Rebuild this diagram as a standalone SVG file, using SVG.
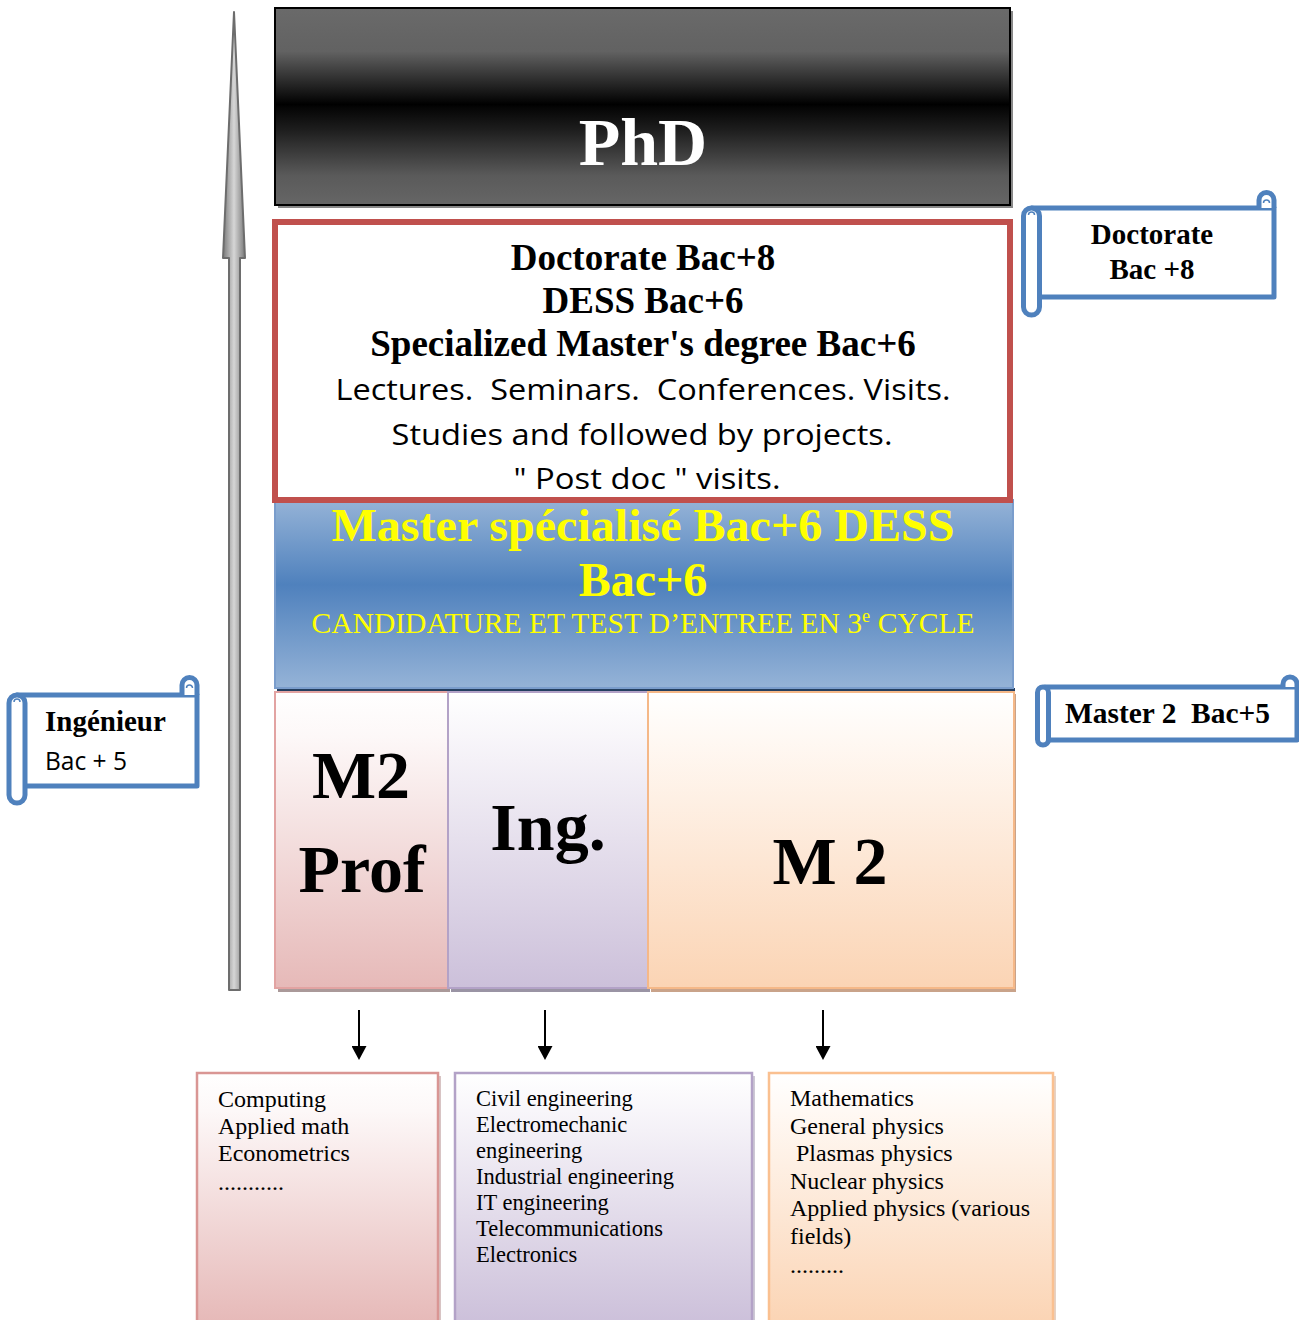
<svg xmlns="http://www.w3.org/2000/svg" width="1299" height="1320" viewBox="0 0 1299 1320">
<style>
.serif{font-family:"Liberation Serif","Times New Roman",serif}
.sans{font-family:"Open Sans","Noto Sans","Liberation Sans",sans-serif}
.b{font-weight:bold}
.scroll{fill:#fff;stroke:#4F81BD;stroke-width:5;stroke-linejoin:round}
.curl{fill:none;stroke:#4F81BD;stroke-width:1.5}
.list{font-family:"Liberation Serif","Times New Roman",serif;fill:#000}
.conn{stroke:#000;stroke-width:2;fill:none}
</style>
<defs>
<linearGradient id="gPhd" x1="0" y1="0" x2="0" y2="1">
<stop offset="0" stop-color="#6a6a6a"/>
<stop offset="0.22" stop-color="#626262"/>
<stop offset="0.49" stop-color="#000"/>
<stop offset="0.505" stop-color="#050505"/>
<stop offset="0.62" stop-color="#1e1e1e"/>
<stop offset="0.85" stop-color="#5a5a5a"/>
<stop offset="1" stop-color="#666"/>
</linearGradient>
<linearGradient id="gBand" x1="0" y1="0" x2="0" y2="1">
<stop offset="0" stop-color="#95B3D7"/>
<stop offset="0.45" stop-color="#4F81BD"/>
<stop offset="1" stop-color="#95B3D7"/>
</linearGradient>
<linearGradient id="gPink" x1="0" y1="0" x2="0" y2="1">
<stop offset="0" stop-color="#fff"/>
<stop offset="0.15" stop-color="#fdf8f8"/>
<stop offset="1" stop-color="#E6B9B8"/>
</linearGradient>
<linearGradient id="gPurple" x1="0" y1="0" x2="0" y2="1">
<stop offset="0" stop-color="#fff"/>
<stop offset="0.15" stop-color="#f8f6fa"/>
<stop offset="1" stop-color="#CCC0DA"/>
</linearGradient>
<linearGradient id="gOrange" x1="0" y1="0" x2="0" y2="1">
<stop offset="0" stop-color="#fff"/>
<stop offset="0.15" stop-color="#fff9f4"/>
<stop offset="1" stop-color="#FBD4B4"/>
</linearGradient>
<linearGradient id="gShaft" x1="0" y1="0" x2="1" y2="0">
<stop offset="0" stop-color="#7a7a7a"/>
<stop offset="0.5" stop-color="#d6d6d6"/>
<stop offset="1" stop-color="#7a7a7a"/>
</linearGradient>
<marker id="ah" viewBox="0 0 14 15" refX="0" refY="7.5" markerWidth="14" markerHeight="15" markerUnits="userSpaceOnUse" orient="auto">
<path d="M0,0 L14,7.5 L0,15 Z" fill="#000"/>
</marker>
<clipPath id="clipRed"><rect x="278" y="225" width="729" height="265"/></clipPath>
</defs>

<g id="level-arrow">
<path d="M234,12 L245,258 L240,258 L240,990 L229,990 L229,258 L223,258 Z" fill="url(#gShaft)" stroke="#6d6d6d" stroke-width="2" stroke-linejoin="round"/>
</g>

<g id="phd">
<rect x="278" y="11" width="735" height="197" fill="#888"/>
<rect x="275" y="8" width="735" height="197" fill="url(#gPhd)" stroke="#000" stroke-width="2"/>
<text class="serif b" x="643" y="165" font-size="68" fill="#fff" text-anchor="middle">PhD</text>
</g>

<g id="master-band">
<rect x="277" y="688" width="738" height="6" fill="#243F60"/>
<rect x="275" y="500" width="738" height="188" fill="url(#gBand)" stroke="#7a9dcc" stroke-width="2"/>
<text class="serif b" x="643" y="541" font-size="47" fill="#FFFF00" text-anchor="middle" textLength="623" lengthAdjust="spacingAndGlyphs">Master spécialisé Bac+6 DESS</text>
<text class="serif b" x="643" y="596" font-size="48" fill="#FFFF00" text-anchor="middle">Bac+6</text>
<text class="serif" x="643" y="633" font-size="29" fill="#FFFF00" text-anchor="middle" textLength="663" lengthAdjust="spacingAndGlyphs">CANDIDATURE ET TEST D’ENTREE EN 3<tspan font-size="18" dy="-11">e</tspan><tspan dy="11"> CYCLE</tspan></text>
</g>

<g id="doctorate-box">
<rect x="275" y="222" width="735" height="278" fill="#fff" stroke="#C0504D" stroke-width="6"/>
<text class="serif b" x="643" y="270" font-size="37" text-anchor="middle">Doctorate Bac+8</text>
<text class="serif b" x="643" y="313" font-size="37" text-anchor="middle">DESS Bac+6</text>
<text class="serif b" x="643" y="356" font-size="37" text-anchor="middle">Specialized Master's degree Bac+6</text>
<text class="sans" x="643" y="400" font-size="30" text-anchor="middle" xml:space="preserve" textLength="615" lengthAdjust="spacingAndGlyphs">Lectures.  Seminars.  Conferences. Visits.</text>
<text class="sans" x="642" y="445" font-size="30" text-anchor="middle" textLength="501" lengthAdjust="spacingAndGlyphs">Studies and followed by projects.</text>
<g clip-path="url(#clipRed)">
<text class="sans" x="647" y="489" font-size="29" text-anchor="middle" textLength="267" lengthAdjust="spacingAndGlyphs">" Post doc " visits.</text>
</g>
</g>

<g id="col-m2prof">
<rect x="278" y="694" width="172" height="298" fill="#a99"/>
<rect x="275" y="692" width="173" height="296" fill="url(#gPink)" stroke="#E2A3A2" stroke-width="2"/>
<text class="serif b" x="361" y="798" font-size="68" text-anchor="middle">M2</text>
<text class="serif b" x="362" y="892" font-size="68" text-anchor="middle">Prof</text>
</g>
<g id="col-ing">
<rect x="451" y="694" width="199" height="298" fill="#9a94a4"/>
<rect x="448" y="692" width="200" height="296" fill="url(#gPurple)" stroke="#B3A2C7" stroke-width="2"/>
<text class="serif b" x="548" y="850" font-size="68" text-anchor="middle">Ing.</text>
</g>
<g id="col-m2">
<rect x="651" y="694" width="365" height="298" fill="#c9a38a"/>
<rect x="648" y="692" width="366" height="296" fill="url(#gOrange)" stroke="#F5B888" stroke-width="2"/>
<text class="serif b" x="830" y="884" font-size="68" text-anchor="middle">M 2</text>
</g>

<g id="scroll-doctorate">
<rect class="scroll" x="1032" y="208" width="242" height="89"/>
<path class="scroll" d="M1259,208 V200 A7.5,7.5 0 0 1 1274,200 V208"/>
<path class="curl" d="M1263.5,203 A3,3 0 0 1 1269.5,203"/>
<rect class="scroll" x="1023.5" y="208" width="16" height="107" rx="8"/>
<path class="curl" d="M1028.5,215 A3,3 0 0 1 1034.5,215"/>
<text class="serif b" x="1152" y="244" font-size="29" text-anchor="middle">Doctorate</text>
<text class="serif b" x="1152" y="279" font-size="29" text-anchor="middle">Bac +8</text>
</g>

<g id="scroll-ingenieur">
<rect class="scroll" x="17" y="695" width="180" height="91"/>
<path class="scroll" d="M182,695 V685 A7.5,7.5 0 0 1 197,685 V695"/>
<path class="curl" d="M186.5,688 A3,3 0 0 1 192.5,688"/>
<rect class="scroll" x="9" y="695" width="16" height="108" rx="8"/>
<path class="curl" d="M14,702 A3,3 0 0 1 20,702"/>
<text class="serif b" x="45" y="731" font-size="29">Ingénieur</text>
<text class="sans" x="45" y="770" font-size="26" textLength="82" lengthAdjust="spacingAndGlyphs">Bac + 5</text>
</g>

<g id="scroll-master2">
<rect class="scroll" x="1045" y="687" width="252" height="53"/>
<path class="scroll" d="M1283,687 V684 A7,7 0 0 1 1297,684 V687"/>
<rect class="scroll" x="1037.5" y="687" width="11" height="58" rx="5.5"/>
<text class="serif b" x="1065" y="723" font-size="29" xml:space="preserve" textLength="205" lengthAdjust="spacingAndGlyphs">Master 2  Bac+5</text>
</g>

<g id="connectors">
<line class="conn" x1="359" y1="1010" x2="359" y2="1046" marker-end="url(#ah)"/>
<line class="conn" x1="545" y1="1010" x2="545" y2="1046" marker-end="url(#ah)"/>
<line class="conn" x1="823" y1="1010" x2="823" y2="1046" marker-end="url(#ah)"/>
</g>

<g id="list-m2prof">
<rect x="200" y="1076" width="241" height="250" fill="#d8c4c4"/>
<rect x="197" y="1073" width="241" height="250" fill="url(#gPink)" stroke="#D99694" stroke-width="2.5"/>
<text class="list" font-size="24"><tspan x="218" y="1107">Computing</tspan><tspan x="218" y="1134">Applied math</tspan><tspan x="218" y="1161">Econometrics</tspan><tspan x="218" y="1190">...........</tspan></text>
</g>

<g id="list-ing">
<rect x="458" y="1076" width="297" height="250" fill="#cdc8d4"/>
<rect x="455" y="1073" width="297" height="250" fill="url(#gPurple)" stroke="#B3A2C7" stroke-width="2.5"/>
<text class="list" font-size="22.5"><tspan x="476" y="1106">Civil engineering</tspan><tspan x="476" y="1132">Electromechanic</tspan><tspan x="476" y="1158">engineering</tspan><tspan x="476" y="1184">Industrial engineering</tspan><tspan x="476" y="1210">IT engineering</tspan><tspan x="476" y="1236">Telecommunications</tspan><tspan x="476" y="1262">Electronics</tspan></text>
</g>

<g id="list-m2">
<rect x="772" y="1076" width="284" height="250" fill="#e6d2c4"/>
<rect x="769" y="1073" width="284" height="250" fill="url(#gOrange)" stroke="#FAC090" stroke-width="2.5"/>
<text class="list" font-size="24" xml:space="preserve"><tspan x="790" y="1106">Mathematics</tspan><tspan x="790" y="1134">General physics</tspan><tspan x="790" y="1161"> Plasmas physics</tspan><tspan x="790" y="1189">Nuclear physics</tspan><tspan x="790" y="1216">Applied physics (various</tspan><tspan x="790" y="1244">fields)</tspan><tspan x="790" y="1273">.........</tspan></text>
</g>
</svg>
